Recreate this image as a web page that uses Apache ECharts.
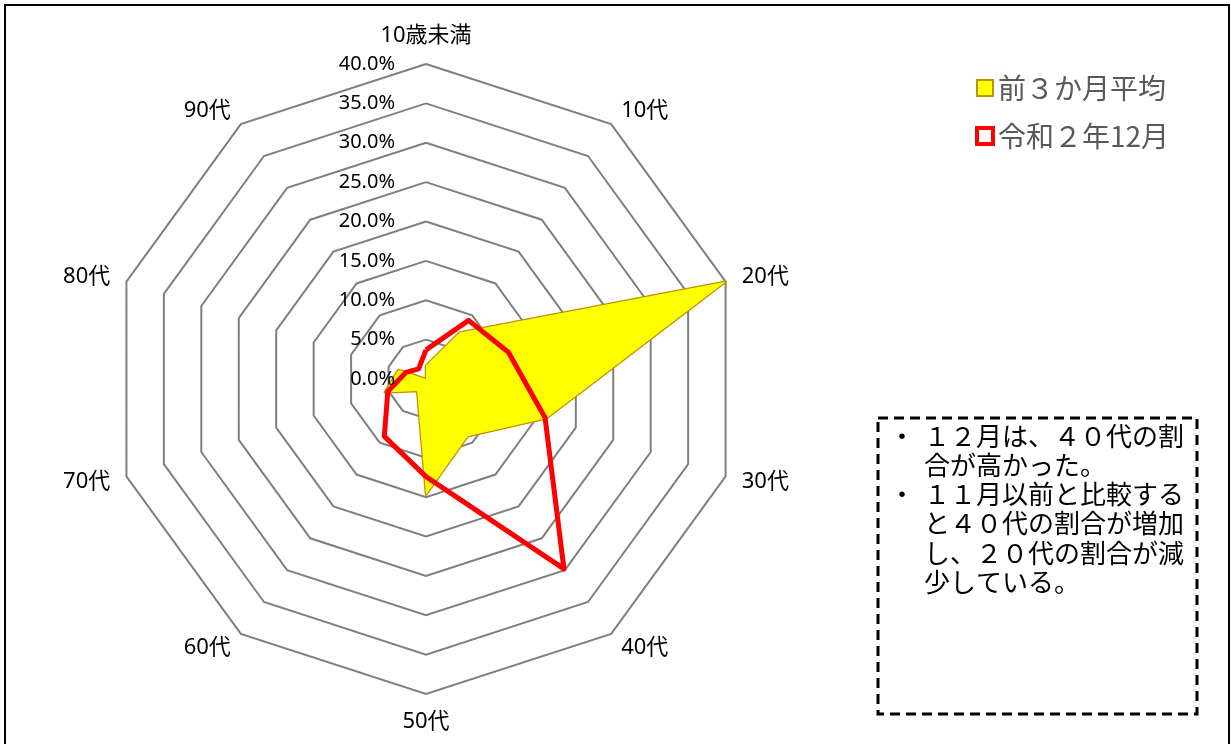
<!DOCTYPE html>
<html><head><meta charset="utf-8">
<script src="https://cdn.jsdelivr.net/npm/echarts@6/dist/echarts.min.js"></script>
<style>html,body{margin:0;padding:0;background:#fff}#c{width:1231px;height:744px}</style>
</head><body><div id="c"></div>
<script>
// ---- data ----
const categories = ['10歳未満','10代','20代','30代','40代','50代','60代','70代','80代','90代'];
const avg3Months = [1.7, 7.3, 40.0, 16.1, 9.0, 14.7, 1.9, 5.5, 3.7, 0.0];
const dec2020 = [3.7, 9.2, 11.0, 15.9, 29.8, 12.4, 9.0, 5.1, 2.7, 1.6];
const seriesNames = ['前３か月平均', '令和２年12月'];
const axisMin = 0, axisMax = 40, axisSplits = 8;
const noteBullets = '・\n\n・';
const noteText = '１２月は、４０代の割\n合が高かった。\n１１月以前と比較する\nと４０代の割合が増加\nし、２０代の割合が減\n少している。';

// ECharts radar runs counter-clockwise; reorder so it reads clockwise like the reference
const order = [0].concat(categories.map((_, i) => i).slice(1).reverse());
const cats = order.map(i => categories[i]);
const a3 = order.map(i => avg3Months[i]);
const d12 = order.map(i => dec2020[i]);

const FONT = '"Noto Sans", "Noto Sans CJK JP", sans-serif';
const CENTER = [426, 379], RADIUS = 315;
const chart = echarts.init(document.getElementById('c'), null, {renderer: 'canvas'});
chart.setOption({
  backgroundColor: '#fff',
  animation: false,
  legend: {
    orient: 'vertical', left: 970, top: 69, itemGap: 20,
    itemWidth: 16, itemHeight: 16, icon: 'rect',
    textStyle: {color: '#595959', fontSize: 28, fontFamily: '"Noto Sans CJK JP", sans-serif'},
    data: [
      {name: seriesNames[0], itemStyle: {color: '#FFFF00', borderColor: '#BF9000', borderWidth: 2}},
      {name: seriesNames[1], itemStyle: {color: '#FFFFFF', borderColor: '#FF0000', borderWidth: 4}}
    ]
  },
  radar: [{
    center: CENTER, radius: RADIUS, startAngle: 90, shape: 'polygon',
    splitNumber: axisSplits,
    indicator: cats.map(n => ({name: n, min: axisMin, max: axisMax})),
    axisName: {color: '#000', fontSize: 22, fontFamily: FONT},
    nameGap: 17,
    splitLine: {lineStyle: {color: '#7F7F7F', width: 2}},
    splitArea: {show: false},
    axisLine: {show: false},
    axisTick: {show: false},
    axisLabel: {show: false}
  }, {
    // overlay coordinate used only for the value labels on the top axis, drawn above the series
    z: 10,
    center: CENTER, radius: RADIUS, startAngle: 90, shape: 'polygon',
    splitNumber: axisSplits,
    indicator: cats.map((n, i) => ({
      name: '', min: axisMin, max: axisMax,
      axisLabel: {show: i === 0}
    })),
    axisName: {show: false},
    splitLine: {show: false},
    splitArea: {show: false},
    axisLine: {show: false},
    axisTick: {show: false},
    axisLabel: {
      show: false, color: '#000', fontSize: 20, fontFamily: FONT, margin: 31,
      formatter: v => Number(v).toFixed(1) + '%'
    }
  }],
  series: [{
    type: 'radar', radarIndex: 0, symbol: 'none',
    data: [
      {name: seriesNames[0], value: a3,
       lineStyle: {color: '#BF9000', width: 2.5},
       itemStyle: {color: '#FFFF00', borderColor: '#BF9000'},
       areaStyle: {color: '#FFFF00', opacity: 1}},
      {name: seriesNames[1], value: d12,
       lineStyle: {color: '#FF0000', width: 5},
       itemStyle: {color: '#FF0000'}}
    ]
  }],
  graphic: [
    {type: 'rect', shape: {x: 5, y: 5, width: 1224, height: 800},
     style: {fill: 'none', stroke: '#000', lineWidth: 2}, silent: true},
    {type: 'rect', shape: {x: 878, y: 418, width: 319, height: 296},
     style: {fill: '#fff', stroke: '#000', lineWidth: 3, lineDash: [10, 6]}, silent: true},
    {type: 'text', x: 889, y: 421,
     style: {text: noteBullets, fontSize: 26, lineHeight: 29.3, fill: '#000',
             fontFamily: '"Noto Sans CJK JP", sans-serif'}},
    {type: 'text', x: 924, y: 421,
     style: {text: noteText, fontSize: 26, lineHeight: 29.3, fill: '#000',
             fontFamily: '"Noto Sans CJK JP", sans-serif'}}
  ]
});
</script></body></html>
